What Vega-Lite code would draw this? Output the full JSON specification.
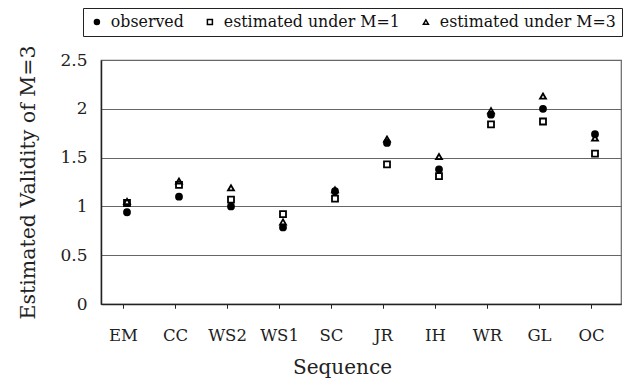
{
  "$schema": "https://vega.github.io/schema/vega-lite/v6.json",
  "width": 520,
  "height": 244,
  "autosize": {"type": "none"},
  "padding": {"left": 101, "top": 60, "right": 5, "bottom": 82},
  "background": "white",
  "config": {
    "font": "DejaVu Serif",
    "view": {"stroke": "#666", "strokeWidth": 1.2},
    "axis": {"labelFont": "DejaVu Serif", "titleFont": "DejaVu Serif", "labelColor": "#222", "titleColor": "#222", "titleFontWeight": "normal"}
  },
  "data": {
    "values": [
      {"seq": "EM", "series": "observed", "value": 0.94},
      {"seq": "EM", "series": "estimated under M=1", "value": 1.035},
      {"seq": "EM", "series": "estimated under M=3", "value": 1.05},
      {"seq": "CC", "series": "observed", "value": 1.10},
      {"seq": "CC", "series": "estimated under M=1", "value": 1.22},
      {"seq": "CC", "series": "estimated under M=3", "value": 1.26},
      {"seq": "WS2", "series": "observed", "value": 1.00},
      {"seq": "WS2", "series": "estimated under M=1", "value": 1.07},
      {"seq": "WS2", "series": "estimated under M=3", "value": 1.19},
      {"seq": "WS1", "series": "observed", "value": 0.785},
      {"seq": "WS1", "series": "estimated under M=1", "value": 0.92},
      {"seq": "WS1", "series": "estimated under M=3", "value": 0.84},
      {"seq": "SC", "series": "observed", "value": 1.155},
      {"seq": "SC", "series": "estimated under M=1", "value": 1.08},
      {"seq": "SC", "series": "estimated under M=3", "value": 1.17},
      {"seq": "JR", "series": "observed", "value": 1.65},
      {"seq": "JR", "series": "estimated under M=1", "value": 1.43},
      {"seq": "JR", "series": "estimated under M=3", "value": 1.69},
      {"seq": "IH", "series": "observed", "value": 1.38},
      {"seq": "IH", "series": "estimated under M=1", "value": 1.31},
      {"seq": "IH", "series": "estimated under M=3", "value": 1.51},
      {"seq": "WR", "series": "observed", "value": 1.94},
      {"seq": "WR", "series": "estimated under M=1", "value": 1.84},
      {"seq": "WR", "series": "estimated under M=3", "value": 1.98},
      {"seq": "GL", "series": "observed", "value": 2.00},
      {"seq": "GL", "series": "estimated under M=1", "value": 1.87},
      {"seq": "GL", "series": "estimated under M=3", "value": 2.13},
      {"seq": "OC", "series": "observed", "value": 1.74},
      {"seq": "OC", "series": "estimated under M=1", "value": 1.54},
      {"seq": "OC", "series": "estimated under M=3", "value": 1.70}
    ]
  },
  "encoding": {
    "y": {
      "field": "value", "type": "quantitative",
      "scale": {"domain": [0, 2.5], "nice": false},
      "axis": {
        "values": [0, 0.5, 1, 1.5, 2, 2.5], "format": "~g",
        "labelFontSize": 17, "labelPadding": 14, "ticks": false,
        "domainColor": "#222", "domainWidth": 1.5,
        "grid": true, "gridColor": "#666", "gridWidth": 1.2,
        "title": "Estimated Validity of M=3", "titleFontSize": 20.5, "titlePadding": 21
      }
    }
  },
  "resolve": {"axis": {"x": "independent"}},
  "layer": [
    {
      "mark": {"type": "point", "opacity": 0},
      "encoding": {
        "x": {
          "field": "seq", "type": "nominal", "sort": null,
          "scale": {"paddingInner": 0, "paddingOuter": 0},
          "axis": {"orient": "bottom", "bandPosition": 0, "labels": false, "title": null, "domain": false, "tickSize": 4, "tickOffset": -4, "tickColor": "#222", "grid": false}
        }
      }
    },
    {
      "mark": {"type": "point", "filled": false, "color": "black", "strokeWidth": 1.8, "size": 36, "opacity": 1},
      "encoding": {
        "x": {
          "field": "seq", "type": "nominal", "sort": null,
          "axis": {
            "orient": "bottom", "labelAngle": 0, "labelFontSize": 16.5, "labelPadding": 19,
            "tickSize": 4, "tickOffset": -4, "tickColor": "#222", "domainColor": "#222", "domainWidth": 1.5,
            "title": "Sequence", "titleFontSize": 20, "titlePadding": 14, "titleX": 241
          }
        },
        "shape": {
          "field": "series", "type": "nominal",
          "scale": {"domain": ["observed", "estimated under M=1", "estimated under M=3"], "range": ["circle", "square", "triangle-up"]},
          "legend": {
            "title": null, "orient": "none", "direction": "horizontal",
            "legendX": -18, "legendY": -52,
            "strokeColor": "#222", "padding": 6, "labelLimit": 0,
            "labelFontSize": 15.8, "labelFont": "DejaVu Serif", "labelColor": "#111",
            "symbolSize": 25, "labelOffset": 6, "columnPadding": 18,
            "encode": {"symbols": {"update": {"stroke": {"value": "black"}, "strokeWidth": {"value": 1.8}, "opacity": {"value": 1}}}}
          }
        },
        "fill": {
          "field": "series", "type": "nominal",
          "scale": {"domain": ["observed", "estimated under M=1", "estimated under M=3"], "range": ["black", "rgba(0,0,0,0)", "rgba(0,0,0,0)"]},
          "legend": {"title": null}
        }
      }
    }
  ]
}
